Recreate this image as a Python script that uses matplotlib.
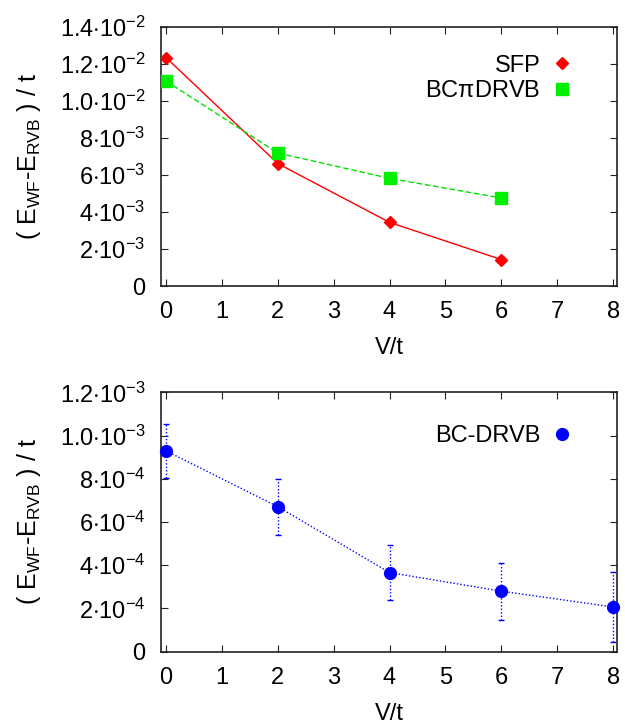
import matplotlib
matplotlib.use("Agg")
import matplotlib.pyplot as plt
from matplotlib.ticker import FixedLocator, FixedFormatter

plt.rcParams['font.family'] = ['Liberation Sans', 'DejaVu Sans']
plt.rcParams['mathtext.fontset'] = 'custom'
plt.rcParams['mathtext.rm'] = 'Liberation Sans'
plt.rcParams['mathtext.it'] = 'Liberation Sans'
plt.rcParams['mathtext.sf'] = 'Liberation Sans'

# V/t values
v = [0, 2, 4, 6]
v_dr = [0, 2, 4, 6, 8]

# energy differences per t
sfp = [0.01235, 0.00662, 0.00344, 0.00143]
bcpi = [0.01108, 0.00719, 0.00582, 0.00476]
bcdr = [9.29e-4, 6.71e-4, 3.66e-4, 2.80e-4, 2.07e-4]
bcdr_err = [1.24e-4, 1.30e-4, 1.28e-4, 1.32e-4, 1.62e-4]

top_ticks = [0, 2e-3, 4e-3, 6e-3, 8e-3, 1.0e-2, 1.2e-2, 1.4e-2]
top_labels = ['0', r'$2{\cdot}10^{-3}$', r'$4{\cdot}10^{-3}$', r'$6{\cdot}10^{-3}$',
              r'$8{\cdot}10^{-3}$', r'$1.0{\cdot}10^{-2}$', r'$1.2{\cdot}10^{-2}$',
              r'$1.4{\cdot}10^{-2}$']
bot_ticks = [0, 2e-4, 4e-4, 6e-4, 8e-4, 1.0e-3, 1.2e-3]
bot_labels = ['0', r'$2{\cdot}10^{-4}$', r'$4{\cdot}10^{-4}$', r'$6{\cdot}10^{-4}$',
              r'$8{\cdot}10^{-4}$', r'$1.0{\cdot}10^{-3}$', r'$1.2{\cdot}10^{-3}$']

ylab = r'( E$_{\mathrm{WF}}$-E$_{\mathrm{RVB}}$ ) / t'
fs = 17

fig = plt.figure(figsize=(6.25, 7.28), dpi=100)
ax1 = fig.add_axes([0.2576, 0.6071, 0.7296, 0.3558])
ax2 = fig.add_axes([0.2576, 0.1048, 0.7296, 0.3563])


def style(ax, ticks, labels, ymax):
    ax.set_xlim(-0.09, 8.07)
    ax.set_ylim(0, ymax)
    ax.xaxis.set_major_locator(FixedLocator(range(9)))
    ax.yaxis.set_major_locator(FixedLocator(ticks))
    ax.yaxis.set_major_formatter(FixedFormatter(labels))
    ax.tick_params(direction='in', top=True, right=True, length=5, width=0.8,
                   labelsize=fs, colors='#222222', labelcolor='black')
    ax.tick_params(axis='y', pad=11)
    ax.tick_params(axis='x', pad=11)
    for s in ax.spines.values():
        s.set_linewidth(1.2)
        s.set_color('#222222')
    ax.set_xlabel('V/t', fontsize=fs, labelpad=10)
    ax.set_ylabel(ylab, fontsize=fs + 1, labelpad=12)


ax1.plot(v, sfp, color='#ff0000', lw=1, zorder=2)
ax1.plot(v, sfp, 'D', color='#ff0000', ms=6, ls='none', label='SFP', zorder=3)
ax1.plot(v, bcpi, color='#00e000', lw=1, ls=(0, (4, 2)), zorder=2)
ax1.plot(v, bcpi, 's', color='#00f000', ms=8, ls='none', label=r'BC$\pi$DRVB', zorder=3)
style(ax1, top_ticks, top_labels, 0.014)
ax1.legend(loc='upper right', frameon=False, markerfirst=False, fontsize=fs,
           handlelength=1.0, handletextpad=0.4, borderaxespad=0, labelspacing=0.15,
           bbox_to_anchor=(0.926, 0.93))

ax2.plot(v_dr, bcdr, color='#0000ff', lw=1, ls=(0, (1, 1.5)), zorder=2)
eb = ax2.errorbar(v_dr, bcdr, yerr=bcdr_err, fmt='none', ecolor='#0000ff', elinewidth=1,
                  capsize=2, capthick=1, zorder=2)
eb[2][0].set_linestyle((0, (1, 1.5)))
ax2.plot(v_dr, bcdr, 'o', color='#0000ff', ms=8.5, ls='none', label='BC-DRVB', zorder=3,
         clip_on=False)
style(ax2, bot_ticks, bot_labels, 0.0012)
ax2.legend(loc='upper right', frameon=False, markerfirst=False, fontsize=fs,
           handlelength=1.0, handletextpad=0.4, borderaxespad=0,
           bbox_to_anchor=(0.926, 0.91))

fig.savefig('out.png', dpi=100)
